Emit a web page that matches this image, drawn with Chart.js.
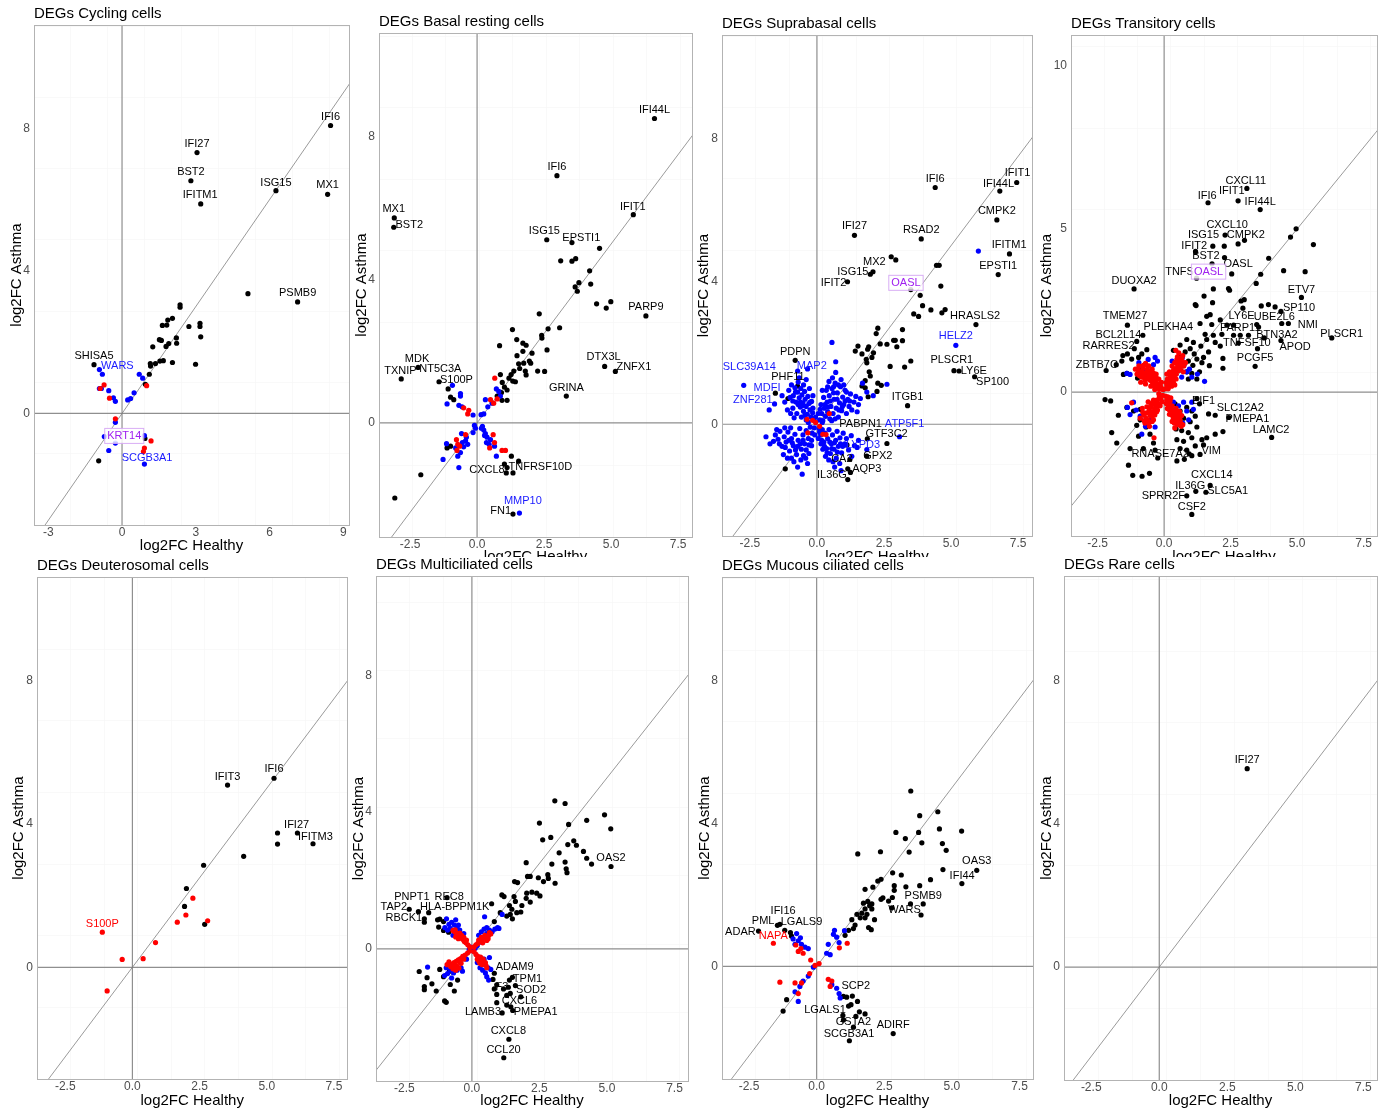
<!DOCTYPE html>
<html>
<head>
<meta charset="utf-8">
<script src="https://cdn.jsdelivr.net/npm/chart.js@4.4.1/dist/chart.umd.min.js"></script>
<style>
  body { margin: 0; background: #fff; width: 1386px; height: 1110px; position: relative; overflow: hidden; }
  canvas { position: absolute; background: #fff; }
  .bottom { z-index: 2; }
</style>
</head>
<body>
<canvas id="c1" width="352" height="560" style="left:0;top:0"></canvas>
<canvas id="c2" width="343" height="566" style="left:352px;top:0"></canvas>
<canvas id="c3" width="343" height="566" style="left:695px;top:0"></canvas>
<canvas id="c4" width="348" height="566" style="left:1038px;top:0"></canvas>
<canvas id="c5" class="bottom" width="350" height="553" style="left:0;top:557px"></canvas>
<canvas id="c6" class="bottom" width="346" height="553" style="left:350px;top:557px"></canvas>
<canvas id="c7" class="bottom" width="342" height="553" style="left:696px;top:557px"></canvas>
<canvas id="c8" class="bottom" width="348" height="553" style="left:1038px;top:557px"></canvas>
<script>
// ---------- data (x = log2FC Healthy, y = log2FC Asthma) ----------
const xTitle = 'log2FC Healthy';
const yTitle = 'log2FC Asthma';
const panelTitles = ['DEGs Cycling cells', 'DEGs Basal resting cells', 'DEGs Suprabasal cells', 'DEGs Transitory cells',
  'DEGs Deuterosomal cells', 'DEGs Multiciliated cells', 'DEGs Mucous ciliated cells', 'DEGs Rare cells'];

const xTicksCycling = [-3, 0, 3, 6, 9];
const xTicksOther = [-2.5, 0, 2.5, 5, 7.5];
const yTicksMain = [0, 4, 8];
const yTicksTransitory = [0, 5, 10];

// Cycling
const cyclingBlack = [[8.48,8.08],[3.05,7.32],[2.80,6.53],[3.20,5.88],[6.26,6.25],[8.36,6.15],[5.12,3.36],[7.14,3.13],[-1.14,1.37],
  [2.36,3.05],[2.36,2.98],[2.05,2.67],[1.86,2.62],[1.82,2.48],[1.64,2.47],[2.72,2.44],[3.17,2.53],[3.17,2.44],[3.20,2.15],
  [1.52,2.07],[1.60,2.05],[2.21,2.12],[2.22,1.97],[1.90,1.96],[1.79,1.88],[1.25,1.87],
  [1.36,1.40],[1.54,1.47],[1.68,1.48],[1.15,1.40],[1.16,1.33],[2.05,1.43],[2.99,1.38],[1.11,1.10],[0.95,0.82],
  [0.93,-0.70],[-0.95,-1.33]];
const cyclingBlue = [[-0.92,1.23],[-0.80,1.10],[-0.84,0.70],[-0.92,0.70],[-0.54,0.64],[-0.35,0.44],[-0.27,0.34],[0.23,0.38],[0.35,0.42],
  [0.49,0.58],[0.70,1.10],[0.84,0.99],[-0.27,-0.25],[-0.72,-0.65],[-0.27,-0.83],[-0.54,-1.04],[0.91,-0.62],[0.91,-1.42]];
const cyclingRed = [[-0.73,0.80],[-0.89,0.70],[-0.51,0.43],[-0.27,-0.15],[1.00,0.78],[1.18,-0.77],[0.91,-0.97],[0.87,-1.07]];
const cyclingLabels = [['IFI6',8.48,8.32,'k'],['IFI27',3.05,7.56,'k'],['BST2',2.80,6.77,'k'],['IFITM1',3.18,6.12,'k'],
  ['ISG15',6.26,6.48,'k'],['MX1',8.36,6.40,'k'],['PSMB9',7.14,3.37,'k'],['SHISA5',-1.14,1.62,'k'],
  ['WARS',-0.19,1.32,'b'],['KRT14',0.09,-0.63,'p'],['SCGB3A1',1.02,-1.24,'b']];

// Basal resting
const basalBlack = [[6.62,8.51],[2.98,6.91],[5.83,5.82],[-3.09,5.73],[-3.11,5.47],[2.60,5.12],[3.54,5.04],[4.57,4.88],[3.12,4.53],
  [3.54,4.52],[3.68,4.59],[4.20,4.25],[3.80,3.92],[4.24,3.88],[3.66,3.80],[3.74,3.68],[4.46,3.33],[4.82,3.21],[4.99,3.39],
  [6.30,2.99],[2.32,3.05],[3.08,2.66],[2.65,2.63],[2.41,2.45],[2.42,2.37],[1.32,2.61],[1.48,2.33],[2.61,2.04],[0.84,2.16],
  [1.71,2.23],[1.83,2.17],[1.49,1.88],[1.71,2.00],[2.05,1.95],[1.55,1.65],[1.74,1.67],[1.95,1.73],[2.00,1.67],[1.37,1.45],
  [1.59,1.52],[1.80,1.45],[1.83,1.34],[2.26,1.45],[2.52,1.44],[0.87,1.35],[1.27,1.35],[1.19,1.25],[1.33,1.17],[0.94,1.13],
  [1.02,1.00],[1.43,1.15],[0.91,0.85],[1.12,0.92],[0.75,0.75],[0.93,0.63],[1.12,0.63],[4.76,1.58],[5.16,1.44],[3.33,0.75],
  [-2.20,1.55],[-2.83,1.23],[-1.42,1.15],[-1.08,0.95],[-0.99,0.72],[-0.87,0.65],[-1.12,-0.70],[-0.99,-0.65],[-2.10,-1.45],
  [-3.07,-2.10],[1.12,-1.25],[1.09,-1.40],[1.34,-1.40],[1.28,-0.93],[1.02,-1.15],[1.55,-1.07],[1.34,-2.55]];
const basalBlue = [[1.58,-2.52],[-0.92,1.05],[-0.62,0.82],[-0.62,0.75],[-1.12,0.53],[-0.68,0.49],[-0.56,0.45],[-0.15,0.22],
  [0.25,0.25],[0.40,0.45],[0.31,0.65],[0.72,0.95],[0.81,0.88],[0.87,0.75],[0.56,0.55],[0.15,0.23],[-0.10,-0.07],[-0.06,-0.15],
  [-0.15,-0.27],[0.16,-0.15],[0.25,-0.20],[0.31,-0.30],[0.37,-0.40],[0.50,-0.47],[0.35,-0.55],[0.65,-0.65],[0.72,-0.93],
  [-0.58,-0.30],[-0.43,-0.50],[-0.50,-0.67],[-0.62,-0.83],[-0.72,-0.93],[-1.14,-0.58],[-1.27,-1.02],[-0.68,-1.25],[-0.40,-0.40],
  [0.20,-0.10],[0.28,-0.35],[0.45,-0.60],[-0.55,-0.55],[-0.35,-0.60],[-0.80,-0.70]];
const basalRed = [[0.66,1.25],[0.50,0.65],[0.62,0.55],[0.75,0.67],[-0.50,0.42],[-0.35,0.25],[-0.31,0.35],[0.60,-0.33],
  [0.65,-0.55],[0.47,-0.70],[0.93,-0.77],[1.06,-0.77],[-0.77,-0.47],[-0.65,-0.65],[-0.72,-0.60],[-0.43,-0.33],[-0.75,-0.77]];
const basalLabels = [['IFI44L',6.62,8.74,'k'],['IFI6',2.98,7.15,'k'],['IFIT1',5.81,6.05,'k'],['MX1',-3.11,5.97,'k'],
  ['BST2',-2.53,5.54,'k'],['ISG15',2.51,5.37,'k'],['EPSTI1',3.89,5.18,'k'],['PARP9',6.30,3.23,'k'],['DTX3L',4.72,1.83,'k'],
  ['ZNFX1',5.85,1.55,'k'],['GRINA',3.33,0.98,'k'],['MDK',-2.24,1.80,'k'],['TXNIP',-2.86,1.45,'k'],['NT5C3A',-1.37,1.50,'k'],
  ['S100P',-0.77,1.20,'k'],['CXCL8',0.37,-1.32,'k'],['TNFRSF10D',2.36,-1.23,'k'],['MMP10',1.71,-2.17,'b'],['FN1',0.88,-2.47,'k']];

// Suprabasal
const supraBlack = [[7.45,6.77],[6.82,6.53],[4.41,6.63],[6.71,5.72],[1.40,5.29],[3.89,5.19],[7.18,4.77],[6.76,4.19],[2.09,4.27],
  [1.99,4.20],[1.14,3.99],[2.77,4.69],[2.94,4.60],[4.46,4.45],[4.56,4.45],[3.50,3.77],[3.85,3.61],[4.62,3.87],[3.94,3.32],
  [4.25,3.20],[3.61,3.09],[3.79,3.02],[4.66,3.12],[4.78,3.21],[5.93,2.79],[2.27,2.69],[2.21,2.54],[3.19,2.65],[2.86,2.35],
  [2.92,2.35],[3.19,2.34],[2.36,2.25],[2.61,2.24],[2.98,2.17],[1.93,2.17],[1.53,2.19],[1.43,2.05],[1.68,1.97],[1.89,2.10],
  [2.11,2.00],[1.84,1.82],[1.86,1.72],[2.05,1.87],[3.50,1.77],[2.73,1.62],[3.27,1.60],[1.95,1.47],[1.99,1.35],[1.80,1.22],
  [1.68,1.07],[1.80,1.02],[2.27,1.15],[2.40,1.09],[1.91,0.77],[2.24,0.92],[5.11,1.50],[5.30,1.49],[5.88,1.33],[3.38,0.52],
  [-0.81,1.79],[-0.72,1.07],[-1.55,0.87],[-1.08,0.72],[-1.18,-1.25],[1.88,-0.41],[2.61,-0.54],[1.86,-0.89],[1.23,-0.98],
  [1.25,-1.35],[1.15,-1.25],[1.15,-1.55],[1.12,-0.58]];
const supraBlue = [[-1.05,0.95],[-0.95,1.10],[-0.88,0.80],[-0.82,1.02],[-0.78,0.62],[-0.72,0.90],[-0.70,1.18],[-0.66,0.74],
  [-0.62,0.48],[-0.60,1.00],[-0.56,0.82],[-0.52,0.60],[-0.50,0.36],[-0.46,0.92],[-0.44,0.70],[-0.40,0.50],[-0.36,0.28],
  [-0.34,0.78],[-0.30,0.58],[-0.26,0.40],[-0.22,0.20],[-0.20,0.64],[-0.16,0.32],[-0.12,0.14],[-0.90,0.45],[-1.20,0.62],
  [-1.30,0.80],[-0.98,0.30],[-0.75,0.30],[-0.58,0.20],[-1.10,0.40],[-0.85,0.18],[-0.40,0.12],[-0.66,1.30],[-0.50,1.10],
  [0.10,0.12],[0.18,0.30],[0.22,0.10],[0.28,0.45],[0.32,0.22],[0.38,0.62],[0.40,0.35],[0.46,0.80],[0.48,0.15],[0.52,0.50],
  [0.56,1.00],[0.60,0.30],[0.64,0.70],[0.68,1.15],[0.72,0.45],[0.76,0.88],[0.80,0.20],[0.84,0.60],[0.88,1.05],[0.92,0.38],
  [0.96,0.76],[1.00,0.55],[1.05,0.95],[1.10,0.30],[1.15,0.70],[1.20,0.50],[1.25,0.85],[1.30,0.40],[1.38,0.62],[1.45,0.78],
  [1.50,0.35],[1.55,0.55],[0.35,0.95],[0.25,0.75],[0.15,0.55],[0.58,1.30],[0.90,1.25],[0.70,1.45],[0.45,1.20],[1.62,0.72],
  [-0.10,-0.10],[-0.18,-0.25],[-0.25,-0.08],[-0.32,-0.40],[-0.40,-0.18],[-0.46,-0.55],[-0.52,-0.30],[-0.58,-0.70],
  [-0.64,-0.12],[-0.70,-0.45],[-0.76,-0.85],[-0.82,-0.28],[-0.88,-0.60],[-0.95,-0.40],[-1.02,-0.75],[-1.08,-0.22],
  [-1.15,-0.50],[-1.22,-0.35],[-1.30,-0.62],[-1.38,-0.20],[-1.45,-0.42],[-1.55,-0.30],[-1.62,-0.48],[-0.60,-1.00],
  [-0.50,-0.88],[-0.40,-0.72],[-0.30,-0.58],[-0.86,-1.05],[-0.72,-1.20],[-0.95,-0.95],[-1.10,-0.95],[-0.20,-0.45],
  [-0.55,-1.40],[-1.25,-0.85],[-0.35,-1.10],
  [0.08,-0.12],[0.14,-0.30],[0.20,-0.15],[0.26,-0.50],[0.30,-0.25],[0.36,-0.68],[0.40,-0.40],[0.45,-0.15],[0.50,-0.82],
  [0.54,-0.55],[0.58,-0.30],[0.64,-0.70],[0.70,-0.45],[0.75,-0.20],[0.80,-0.62],[0.86,-0.38],[0.92,-0.80],[0.98,-0.25],
  [1.04,-0.55],[1.10,-0.40],[1.18,-0.72],[0.22,-0.70],[0.32,-0.90],[0.44,-1.00],[0.60,-1.05],[0.72,-0.95],[0.15,-0.55],
  [0.05,-0.40],[1.28,-0.32],[1.40,-0.60],[0.66,-1.20],[1.55,-0.45],[0.85,-1.10],
  [-0.05,0.20],[0.05,0.30],[-0.15,0.45],[0.12,0.42],[-0.25,0.62],[0.20,0.05],[-0.32,0.05],[0.30,0.55],[-0.45,0.25],
  [0.42,0.48],[-0.55,0.52],[0.50,0.65],[-0.62,0.62],[0.62,0.88],[-0.70,0.55],[0.75,0.70],[-0.80,0.90],[0.82,0.40],
  [-0.90,0.65],[0.95,0.50],[-1.00,0.75],[1.05,0.65],[-0.08,-0.30],[0.10,-0.22],[-0.20,-0.60],[0.18,-0.45],[-0.30,-0.82],
  [0.28,-0.62],[-0.42,-0.95],[0.38,-0.80],[-0.52,-0.45],[0.48,-0.50],[-0.62,-0.55],[0.55,-0.68],[-0.72,-0.62],[0.65,-0.52],
  [-0.80,-0.72],[0.76,-0.78],[-0.92,-0.52],[0.88,-0.55],[-1.05,-0.45],[0.96,-0.62],[-1.18,-0.65],[1.08,-0.58],[-0.15,0.80],
  [0.20,0.95],[-0.28,1.00],[0.40,1.05],[-0.40,1.25],[0.62,1.05],[0.80,1.10],[1.00,1.10],[1.10,0.90],[1.22,0.65],
  [-1.40,-0.55],[-1.50,-0.15],[-1.20,-0.10],[-0.98,-0.10],[0.55,0.10],[0.68,0.15],
  [-2.73,1.09],[-1.58,0.57],[-1.78,0.40],[-0.72,1.49],[5.18,2.21],[6.02,4.85],[3.08,-0.35],[1.86,-0.71],[0.56,2.29],
  [2.61,1.12],[1.86,0.90],[1.50,-0.65],[1.30,-0.90],[0.70,1.75],[-0.35,1.55],[0.90,-1.30],[-1.90,-0.35],[-1.75,-0.55],
  [2.10,0.80],[1.70,1.15]];
const supraRed = [[-0.37,0.14],[-0.16,0.11],[0.46,0.30],[0.10,-0.06],[-0.34,-0.24],[0.22,-0.28],[0.34,-0.29],[-0.05,0.05]];
const supraLabels = [['IFIT1',7.48,7.03,'k'],['IFI44L',6.77,6.74,'k'],['IFI6',4.41,6.87,'k'],['CMPK2',6.71,5.97,'k'],
  ['IFI27',1.40,5.54,'k'],['RSAD2',3.89,5.44,'k'],['IFITM1',7.17,5.01,'k'],['EPSTI1',6.76,4.42,'k'],['MX2',2.14,4.54,'k'],
  ['ISG15',1.34,4.25,'k'],['IFIT2',0.62,3.95,'k'],['OASL',3.32,3.96,'p'],['HRASLS2',5.90,3.03,'k'],['HELZ2',5.18,2.46,'b'],
  ['PLSCR1',5.03,1.79,'k'],['LY6E',5.85,1.49,'k'],['SP100',6.55,1.19,'k'],['ITGB1',3.38,0.77,'k'],['PDPN',-0.81,2.03,'k'],
  ['PHF11',-1.08,1.32,'k'],['SLC39A14',-2.52,1.61,'b'],['MAP2',-0.19,1.64,'b'],['MDFI',-1.86,1.02,'b'],['ZNF281',-2.39,0.67,'b'],
  ['PABPN1',1.63,0.0,'k'],['ATP5F1',3.27,0.0,'b'],['GTF3C2',2.60,-0.28,'k'],['LYPD3',1.72,-0.58,'b'],['GPX2',2.27,-0.88,'k'],
  ['CA2',0.93,-0.98,'k'],['AQP3',1.86,-1.25,'k'],['IL36G',0.56,-1.41,'k']];

// Transitory
const transBlack = [[3.11,6.24],[2.78,5.86],[1.65,5.80],[3.61,5.59],[2.29,4.81],[1.83,4.47],[2.26,4.47],[2.78,4.54],[3.02,4.65],
  [1.18,4.31],[1.80,3.93],[2.27,4.12],[2.54,3.62],[1.22,3.49],[-1.13,3.16],[4.96,5.00],[4.75,4.75],[5.61,4.52],[3.93,4.10],
  [4.49,3.72],[5.30,3.69],[3.63,3.61],[3.46,3.33],[2.42,3.17],[2.46,3.12],[1.85,3.16],[1.50,2.94],[1.82,2.74],[1.17,2.68],
  [1.20,2.65],[2.89,2.79],[3.01,2.83],[2.96,2.57],[3.65,2.64],[3.92,2.68],[4.17,2.61],[5.16,2.90],[4.39,2.47],[1.60,2.32],
  [1.73,2.37],[1.35,2.10],[1.79,2.07],[2.11,2.21],[2.36,2.05],[2.61,2.05],[3.48,2.07],[3.55,1.99],[4.42,2.10],[4.67,2.10],
  [1.54,1.77],[1.85,1.74],[2.17,1.77],[3.17,1.74],[2.61,1.74],[2.86,1.74],[3.76,1.66],[4.39,1.58],[6.30,1.66],[0.85,1.61],
  [1.10,1.52],[1.38,1.41],[1.92,1.52],[2.11,1.41],[2.79,1.50],[3.51,1.33],[3.42,0.79],[2.21,1.03],[2.21,0.73],[1.70,0.81],
  [-1.38,2.05],[-0.80,1.74],[-1.03,1.55],[-1.12,1.33],[-2.18,0.66],[-1.55,1.12],[-1.59,0.95],[-1.38,1.17],[-1.22,1.01],
  [-1.80,0.84],[-1.53,0.54],[-1.40,0.57],[-0.96,1.06],[-0.84,1.17],[-0.65,1.30],[-0.90,0.73],[-1.00,0.43],
  [0.60,1.06],[0.79,1.23],[0.98,1.33],[1.13,1.17],[0.73,0.84],[0.91,0.95],[1.08,0.82],[1.23,1.01],[0.60,0.68],[0.85,0.62],
  [1.04,0.57],[1.33,0.62],[1.23,0.40],[0.91,0.40],[1.67,1.23],[1.48,1.06],[1.42,0.90],[1.60,1.61],[0.60,1.44],[0.35,1.28],
  [1.67,-0.67],[1.92,-0.71],[2.43,-0.78],[4.04,-1.39],[1.35,-1.91],[-0.24,-2.02],[0.94,-1.89],[1.73,-2.86],[1.19,-3.04],
  [1.57,-3.07],[0.85,-3.18],[1.04,-3.75],
  [-2.22,-0.23],[-2.01,-0.27],[-1.72,-0.71],[-1.97,-1.24],[-1.78,-1.56],[-1.34,-2.24],[-1.18,-2.55],[-0.83,-2.58],
  [-0.55,-2.49],[-1.28,-1.73],[-1.03,-1.02],[-0.90,-0.85],[-1.40,-0.47],[-1.15,-0.58],[-0.90,-0.53],[-0.65,-0.91],
  [-0.68,-1.07],[-0.53,-1.29],[-0.40,-1.56],[-0.78,-1.73],[-0.96,-1.35],[-0.34,-1.78],
  [0.41,-0.36],[0.60,-0.58],[0.85,-0.47],[1.04,-0.58],[0.50,-0.85],[0.73,-0.80],[0.98,-0.91],[1.17,-0.74],[0.45,-1.13],
  [0.66,-1.18],[0.91,-1.24],[1.23,-1.07],[0.48,-1.46],[0.73,-1.51],[1.04,-1.40],[1.42,-1.46],[0.60,-1.73],[0.85,-1.78],
  [1.17,-1.65],[1.48,-1.62],[0.48,-2.11],[0.76,-2.06],[1.04,-1.95],[1.60,-1.40],[1.92,-1.29],[2.21,-1.21],[1.33,-0.36],
  [1.23,-0.20]];
const transBlue = [[1.52,0.33],[-0.84,0.51],[-0.68,0.62],[-0.34,1.06],[-0.40,0.84],[-1.28,0.54],[-1.40,0.57],[0.54,0.73],
  [0.75,0.84],[0.85,0.62],[0.66,0.46],[1.04,0.46],[0.35,-0.31],[0.54,-0.42],[0.73,-0.31],[0.85,-0.58],[0.60,-0.69],
  [0.41,-0.80],[-1.38,-0.47],[-1.28,-0.69],[-0.84,-1.29],[-0.90,-0.74],[-0.53,-0.85],[-0.40,-0.63],[-0.34,-1.07],
  [-1.15,-0.31],[1.04,-0.31],[1.10,-0.53],[-0.95,0.90],[-0.60,1.00],[0.95,0.70],[0.68,1.05],[0.70,-0.95],[0.92,-0.85],
  [-1.05,-0.55],[-0.70,-1.05],[0.30,0.95],[-0.25,0.95],[1.25,0.55],[0.45,-0.95]];
const transRed = [[-0.05,0.08],[-0.12,0.15],[-0.18,0.10],[-0.22,0.25],[-0.28,0.18],[-0.32,0.35],[-0.36,0.22],[-0.40,0.42],
  [-0.44,0.30],[-0.48,0.52],[-0.52,0.36],[-0.56,0.60],[-0.60,0.44],[-0.64,0.68],[-0.68,0.50],[-0.72,0.36],[-0.76,0.58],
  [-0.80,0.72],[-0.85,0.46],[-0.90,0.62],[-0.95,0.80],[-1.02,0.55],[-1.08,0.70],[-0.58,0.80],[-0.45,0.70],[-0.30,0.55],
  [-0.70,0.25],[-0.88,0.30],[-0.50,0.18],[-0.35,0.08],
  [-0.10,0.30],[-0.20,0.40],[-0.30,0.45],[-0.40,0.58],[-0.50,0.66],[-0.62,0.78],[-0.70,0.88],[-0.78,0.82],[-0.92,0.50],
  [-0.98,0.68],[-0.65,0.40],[-0.55,0.48],[-0.42,0.20],[-0.25,0.12],[-0.15,0.25],[-0.35,0.50],[-0.75,0.45],[-0.85,0.60],
  [-0.60,0.62],[-0.46,0.44],
  [0.05,0.10],[0.10,0.22],[0.14,0.12],[0.18,0.35],[0.22,0.25],[0.26,0.48],[0.30,0.35],[0.34,0.60],[0.38,0.45],[0.42,0.72],
  [0.46,0.55],[0.50,0.85],[0.54,0.66],[0.58,0.95],[0.62,0.78],[0.66,1.05],[0.30,0.80],[0.20,0.62],[0.48,1.00],[0.72,0.62],
  [0.80,0.90],[0.40,0.22],[0.12,0.40],[0.55,1.20],[0.44,1.28],[0.10,0.55],
  [0.08,0.30],[0.16,0.20],[0.24,0.38],[0.32,0.48],[0.36,0.70],[0.44,0.62],[0.52,0.75],[0.60,0.88],[0.68,0.95],[0.74,0.80],
  [0.28,0.60],[0.40,0.90],[0.50,1.08],[0.22,0.50],[0.35,0.30],[0.60,0.70],[0.15,0.10],[0.28,0.18],[0.45,0.40],[0.70,1.12],
  [-0.06,-0.10],[-0.12,-0.22],[-0.18,-0.15],[-0.22,-0.35],[-0.28,-0.25],[-0.32,-0.48],[-0.38,-0.36],[-0.42,-0.60],
  [-0.48,-0.45],[-0.52,-0.72],[-0.56,-0.55],[-0.62,-0.85],[-0.66,-0.64],[-0.72,-0.95],[-0.76,-0.70],[-0.45,-0.90],
  [-0.35,-0.70],[-0.25,-0.55],[-0.82,-0.50],[-0.60,-0.30],[-0.90,-0.80],[-0.15,-0.42],[-0.38,-1.40],[-1.22,-0.33],
  [-0.55,-1.05],
  [-0.08,-0.30],[-0.18,-0.42],[-0.28,-0.60],[-0.35,-0.55],[-0.45,-0.75],[-0.52,-0.60],[-0.58,-0.95],[-0.68,-0.80],
  [-0.80,-0.62],[-0.30,-0.35],[-0.40,-0.25],[-0.50,-0.35],[-0.20,-0.05],[-0.65,-0.45],[-0.75,-0.88],[-0.40,-0.85],
  [0.05,-0.12],[0.10,-0.25],[0.14,-0.15],[0.18,-0.40],[0.22,-0.28],[0.26,-0.55],[0.30,-0.42],[0.34,-0.70],[0.38,-0.55],
  [0.42,-0.85],[0.46,-0.68],[0.50,-1.00],[0.54,-0.80],[0.58,-0.60],[0.62,-0.95],[0.30,-0.90],[0.20,-0.68],[0.40,-1.10],
  [0.66,-0.72],[0.12,-0.50],[0.70,-1.00],
  [0.08,-0.35],[0.16,-0.30],[0.24,-0.45],[0.28,-0.70],[0.36,-0.62],[0.44,-0.75],[0.48,-0.92],[0.56,-0.70],[0.60,-0.85],
  [0.35,-0.80],[0.25,-0.18],[0.45,-0.50],[0.52,-0.60],[0.20,-0.55],[0.64,-1.05],[0.38,-0.95]];
const transLabels = [['CXCL11',3.07,6.48,'k'],['IFIT1',2.54,6.15,'k'],['IFI6',1.62,6.02,'k'],['IFI44L',3.61,5.81,'k'],
  ['CXCL10',2.37,5.13,'k'],['ISG15',1.48,4.81,'k'],['CMPK2',3.07,4.81,'k'],['IFIT2',1.13,4.49,'k'],['BST2',1.57,4.16,'k'],
  ['OASL',2.78,3.94,'k'],['TNFS',0.58,3.69,'k'],['OASL',1.67,3.69,'p'],['DUOXA2',-1.13,3.39,'k'],['ETV7',5.16,3.14,'k'],
  ['SP110',5.07,2.59,'k'],['TMEM27',-1.47,2.32,'k'],['LY6E',2.91,2.32,'k'],['UBE2L6',4.14,2.29,'k'],['NMI',5.40,2.07,'k'],
  ['PLEKHA4',0.16,1.99,'k'],['PARP11',2.86,1.96,'k'],['BCL2L14',-1.72,1.75,'k'],['PLSCR1',6.67,1.79,'k'],['BTN3A2',4.24,1.74,'k'],
  ['RARRES2',-2.09,1.41,'k'],['TNFSF10',3.11,1.50,'k'],['APOD',4.92,1.37,'k'],['PCGF5',3.42,1.03,'k'],['ZBTB7C',-2.53,0.84,'k'],
  ['EIF1',1.48,-0.27,'k'],['SLC12A2',2.86,-0.49,'k'],['PMEPA1',3.13,-0.82,'k'],['LAMC2',4.02,-1.16,'k'],['VIM',1.77,-1.81,'k'],
  ['RNASE7A2',-0.15,-1.89,'k'],['CXCL14',1.79,-2.55,'k'],['IL36G',0.98,-2.88,'k'],['SLC5A1',2.39,-3.03,'k'],
  ['SPRR2F',-0.03,-3.18,'k'],['CSF2',1.04,-3.51,'k']];

// Deuterosomal
const deutBlack = [[3.54,5.09],[5.27,5.28],[6.14,3.75],[5.40,3.75],[5.40,3.44],[6.72,3.45],[4.14,3.10],[2.65,2.85],[2.01,2.20],
  [1.94,1.70],[2.69,1.20]];
const deutBlue = [];
const deutRed = [[-1.12,0.98],[2.25,1.93],[1.99,1.46],[1.67,1.26],[2.80,1.30],[0.86,0.69],[-0.38,0.22],[0.40,0.24],[-0.94,-0.66]];
const deutLabels = [['IFIT3',3.54,5.31,'k'],['IFI6',5.27,5.53,'k'],['IFI27',6.11,3.98,'k'],['IFITM3',6.81,3.64,'k'],
  ['S100P',-1.12,1.21,'r']];

// Multiciliated
const multiBlack = [[3.07,4.33],[3.45,4.25],[2.50,3.68],[3.58,3.64],[4.25,3.76],[4.91,3.92],[5.14,3.51],[2.62,3.19],[2.92,3.26],
  [3.77,3.16],[3.87,3.03],[3.55,3.05],[3.23,2.81],[4.13,2.85],[4.25,2.65],[4.43,2.48],[5.15,2.41],[2.01,2.52],[2.96,2.48],
  [3.45,2.54],[3.49,2.34],[3.52,2.23],[2.06,2.12],[2.16,2.12],[2.46,2.08],[2.81,2.17],[2.83,2.06],[2.65,1.97],[3.08,1.92],
  [1.58,1.97],[1.69,1.94],[2.03,1.63],[2.22,1.66],[2.40,1.63],[2.52,1.55],[1.11,1.58],[1.19,1.53],[1.56,1.53],[1.61,1.39],
  [2.01,1.48],[2.16,1.37],[1.85,1.27],[1.39,1.27],[1.48,1.16],[1.66,1.06],[1.81,1.08],[1.29,0.96],[1.42,1.01],[1.50,0.88],
  [0.73,1.32],[0.83,0.80],[1.05,1.06],
  [-2.32,1.16],[-1.98,1.09],[-1.60,1.06],[-0.92,1.50],[-1.76,0.88],[-1.76,0.78],[-1.27,0.85],[-1.19,0.87],[-1.05,0.80],
  [-1.23,0.64],[-1.05,0.54],[-0.86,0.49],
  [-1.95,-0.66],[-1.66,-0.84],[-1.76,-1.10],[-1.76,-1.19],[-1.48,-1.02],[-1.32,-1.23],[-1.19,-0.60],[-1.05,-0.81],
  [-0.83,-0.65],[-1.01,-1.52],[-0.95,-1.56],[-0.80,-1.04],[-0.53,-0.91],[-0.65,-1.23],
  [0.83,-0.71],[0.78,-0.89],[0.92,-1.05],[0.83,-1.17],[1.39,-0.91],[1.50,-0.83],[1.17,-1.17],[1.35,-1.12],[1.61,-1.07],
  [0.92,-1.33],[1.29,-1.36],[1.42,-1.30],[1.81,-1.40],[0.92,-1.57],[1.29,-1.64],[1.12,-1.87],[1.51,-1.80],[1.44,-1.69],
  [1.37,-2.64],[1.18,-3.18]];
const multiBlue = [[-0.30,0.45],[-0.45,0.55],[-0.55,0.62],[-0.65,0.70],[-0.75,0.78],[-0.85,0.72],[-0.80,0.60],[-0.70,0.40],
  [-0.90,0.55],[-0.60,0.85],[-0.94,0.88],[-0.50,0.70],[-1.00,0.62],
  [0.25,0.40],[0.35,0.50],[0.45,0.58],[0.55,0.62],[0.65,0.55],[0.75,0.50],[0.85,0.58],[0.95,0.62],[0.47,0.94],[1.12,1.01],
  [1.00,0.60],[0.55,0.45],[0.30,0.20],[0.20,0.10],
  [-0.20,-0.30],[-0.40,-0.55],[-0.55,-0.62],[-0.68,-0.70],[-0.80,-0.62],[-0.90,-0.72],[-1.01,-0.78],[-0.75,-0.85],
  [-1.64,-0.53],[-0.35,-0.65],[-0.95,-0.55],
  [0.30,-0.55],[0.40,-0.62],[0.50,-0.70],[0.55,-0.81],[0.62,-0.91],[0.60,-0.55],[0.65,-0.25],[0.45,-0.30],[0.20,-0.40],
  [0.70,-0.60],[0.00,0.00],[0.05,-0.05],[-0.05,0.05],[0.12,0.02],[-0.10,-0.02]];
const multiRed = [[-0.08,0.06],[-0.15,0.12],[-0.22,0.18],[-0.28,0.22],[-0.34,0.28],[-0.40,0.32],[-0.46,0.38],[-0.52,0.42],
  [-0.58,0.46],[-0.64,0.50],[-0.70,0.54],[-0.50,0.30],[-0.38,0.40],[-0.60,0.35],
  [0.08,0.06],[0.15,0.12],[0.22,0.16],[0.30,0.22],[0.38,0.28],[0.46,0.32],[0.54,0.36],[0.62,0.40],[0.70,0.44],[0.40,0.18],
  [0.55,0.25],
  [-0.08,-0.06],[-0.16,-0.12],[-0.25,-0.18],[-0.34,-0.22],[-0.42,-0.28],[-0.50,-0.32],[-0.58,-0.36],[-0.66,-0.40],
  [-0.74,-0.44],[-0.82,-0.46],[-0.92,-0.46],[-0.55,-0.50],[-0.40,-0.42],[-0.70,-0.58],[-0.60,-0.62],
  [0.08,-0.08],[0.15,-0.16],[0.22,-0.22],[0.28,-0.28],[0.34,-0.34],[0.40,-0.40],[0.46,-0.45],[0.52,-0.48],[0.30,-0.42],
  [0.42,-0.30],
  [-0.30,0.34],[-0.45,0.46],[-0.55,0.38],[-0.62,0.56],[-0.20,0.26],[0.25,0.26],[0.35,0.34],[0.48,0.40],[0.60,0.30],
  [0.65,0.48],[-0.30,-0.30],[-0.45,-0.38],[-0.62,-0.48],[-0.78,-0.52],[-0.85,-0.38],[0.20,-0.30],[0.32,-0.24],[0.38,-0.46],
  [0.50,-0.40],[0.55,-0.55],[-0.48,-0.56],[0.26,-0.36]];
const multiLabels = [['PNPT1',-2.22,1.53,'k'],['REC8',-0.84,1.53,'k'],['TAP2',-2.89,1.22,'k'],['HLA-B',-1.32,1.22,'k'],
  ['PPM1K',-0.04,1.22,'k'],['RBCK1',-2.52,0.90,'k'],['OAS2',5.15,2.65,'k'],['ADAM9',1.58,-0.52,'k'],['TPM1',2.06,-0.88,'k'],
  ['F3',1.11,-1.12,'k'],['SOD2',2.19,-1.21,'k'],['CXCL6',1.76,-1.52,'k'],['LAMB3',0.41,-1.85,'k'],['PMEPA1',2.36,-1.85,'k'],
  ['CXCL8',1.35,-2.39,'k'],['CCL20',1.17,-2.94,'k']];

// Mucous ciliated
const mucBlack = [[3.48,4.91],[4.48,4.33],[3.81,4.22],[2.93,3.75],[3.77,3.75],[4.54,3.85],[5.36,3.79],[3.28,3.58],[4.65,3.44],
  [3.89,3.46],[4.79,3.25],[2.36,3.21],[3.42,3.20],[1.52,3.15],[5.92,2.69],[4.67,2.71],[5.37,2.32],[2.81,2.62],[3.13,2.56],
  [4.21,2.43],[2.26,2.39],[2.38,2.44],[3.30,2.23],[3.81,2.26],[2.87,2.26],[2.87,2.13],[2.80,1.93],[1.79,2.16],[2.08,2.22],
  [2.66,1.83],[2.38,1.88],[2.45,1.92],[3.47,1.75],[3.94,1.75],[2.78,1.64],[3.86,1.44],[1.73,1.77],[1.89,1.82],[1.96,1.70],
  [2.04,1.75],[1.79,1.61],[1.67,1.49],[1.86,1.46],[2.04,1.61],[1.49,1.46],[1.61,1.36],[1.79,1.36],[2.14,1.31],[1.30,1.31],
  [1.42,1.16],[1.92,1.09],[2.02,1.03],[1.18,1.01],[1.36,1.06],[1.05,0.87],
  [-2.15,0.99],[-1.45,1.15],[-1.36,1.18],[-1.18,1.01],[-0.97,0.95],[-0.93,0.85],
  [1.32,-0.83],[0.99,-0.84],[1.11,-0.86],[1.51,-0.98],[1.27,-1.07],[1.18,-1.11],[1.58,-1.27],[1.79,-1.33],[1.45,-1.40],
  [0.97,-1.37],[0.99,-1.50],[1.36,-1.70],[1.21,-2.08],[2.83,-1.88],[-1.11,-0.93],[-1.24,-1.25]];
const mucBlue = [[-0.74,0.92],[-0.87,0.77],[-0.68,0.72],[-0.56,0.62],[-0.43,0.54],[-0.31,0.50],[-0.80,0.62],[0.66,1.01],
  [1.03,1.00],[0.74,0.82],[0.83,0.67],[0.43,0.62],[0.37,0.37],[0.50,0.33],[0.56,-0.51],[0.74,-0.61],[0.83,-0.76],[0.87,-0.88],
  [-0.50,-0.41],[-0.62,-0.56],[-0.80,-0.71],[-0.68,-0.98],[-0.31,-0.27],[-0.12,-0.02],[0.62,0.90],[-0.60,0.80]];
const mucRed = [[-1.60,0.65],[0.84,0.52],[1.13,0.65],[-0.77,0.60],[-0.68,0.42],[-0.58,0.50],[-0.50,0.37],[-0.22,0.18],
  [0.09,0.08],[-0.06,0.03],[-0.26,-0.20],[-0.56,-0.46],[-0.80,-0.46],[-0.68,-0.76],[-1.36,-0.44],[0.43,-0.36],[0.50,-0.56],
  [0.56,-0.41]];
const mucLabels = [['OAS3',5.92,2.94,'k'],['IFI44',5.38,2.54,'k'],['PSMB9',3.94,1.98,'k'],['WARS',3.25,1.59,'k'],
  ['IFI16',-1.24,1.56,'k'],['PML',-1.98,1.26,'k'],['LGALS9',-0.56,1.24,'k'],['ADAR',-2.82,0.96,'k'],['NAPA',-1.60,0.85,'r'],
  ['SCP2',1.45,-0.54,'k'],['LGALS1',0.31,-1.22,'k'],['GSTA2',1.36,-1.55,'k'],['ADIRF',2.83,-1.65,'k'],['SCGB3A1',1.20,-1.88,'k']];

// Rare
const rareBlack = [[3.23,5.55]];
const rareBlue = [];
const rareRed = [];
const rareLabels = [['IFI27',3.23,5.78,'k']];

// ---------- layout / styling ----------
const panels = [
  { id: 'c1', black: cyclingBlack, blue: cyclingBlue, red: cyclingRed, labels: cyclingLabels, xTicks: xTicksCycling, yTicks: yTicksMain, xDec: 0,
    xr: [-3.58, 9.23], yr: [-3.13, 10.9], yw: 34, xh: 35, pt: 25, pr: 3, ytp: 8, xtp: 5 },
  { id: 'c2', black: basalBlack, blue: basalBlue, red: basalRed, labels: basalLabels, xTicks: xTicksOther, yTicks: yTicksMain, xDec: 1,
    xr: [-3.66, 8.02], yr: [-3.19, 10.9], yw: 27, xh: 29, pt: 33, pr: 3, ytp: 1, xtp: 0 },
  { id: 'c3', black: supraBlack, blue: supraBlue, red: supraRed, labels: supraLabels, xTicks: xTicksOther, yTicks: yTicksMain, xDec: 1,
    xr: [-3.54, 8.02], yr: [-3.13, 10.9], yw: 27, xh: 30, pt: 35, pr: 6, ytp: 0, xtp: 0 },
  { id: 'c4', black: transBlack, blue: transBlue, red: transRed, labels: transLabels, xTicks: xTicksOther, yTicks: yTicksTransitory, xDec: 1,
    xr: [-3.5, 8.0], yr: [-4.41, 10.94], yw: 33, xh: 30, pt: 35, pr: 9, ytp: 0, xtp: 0 },
  { id: 'c5', black: deutBlack, blue: deutBlue, red: deutRed, labels: deutLabels, xTicks: xTicksOther, yTicks: yTicksMain, xDec: 1,
    xr: [-3.55, 8.0], yr: [-3.12, 10.9], yw: 37, xh: 31, pt: 20, pr: 1, ytp: 10, xtp: 0 },
  { id: 'c6', black: multiBlack, blue: multiBlue, red: multiRed, labels: multiLabels, xTicks: xTicksOther, yTicks: yTicksMain, xDec: 1,
    xr: [-3.55, 8.0], yr: [-3.86, 10.9], yw: 26, xh: 29, pt: 19, pr: 8, ytp: 0, xtp: 0 },
  { id: 'c7', black: mucBlack, blue: mucBlue, red: mucRed, labels: mucLabels, xTicks: xTicksOther, yTicks: yTicksMain, xDec: 1,
    xr: [-3.5, 8.0], yr: [-3.15, 10.9], yw: 26, xh: 31, pt: 20, pr: 5, ytp: 0, xtp: 0 },
  { id: 'c8', black: rareBlack, blue: rareBlue, red: rareRed, labels: rareLabels, xTicks: xTicksOther, yTicks: yTicksMain, xDec: 1,
    xr: [-3.5, 8.0], yr: [-3.16, 10.94], yw: 26, xh: 30, pt: 19, pr: 9, ytp: 0, xtp: 0 }
];

const labelColors = { k: '#000000', b: '#1a1aff', r: '#ff0000', p: '#a020f0' };
const FONT = '"Liberation Sans", Arial, sans-serif';

Chart.defaults.font.family = FONT;

const toXY = arr => arr.map(([x, y]) => ({ x, y }));
const isMajor = (v, step) => Math.abs(v / step - Math.round(v / step)) < 1e-6;

const decor = {
  id: 'decor',
  beforeDatasetsDraw(chart, args, opts) {
    const { ctx, chartArea: a, scales: { x, y } } = chart;
    ctx.save();
    ctx.beginPath();
    ctx.rect(a.left, a.top, a.right - a.left, a.bottom - a.top);
    ctx.clip();
    const x0 = x.getPixelForValue(0), y0 = y.getPixelForValue(0);
    ctx.strokeStyle = '#8f8f8f';
    ctx.lineWidth = 1.2;
    ctx.beginPath();
    ctx.moveTo(x0, a.top); ctx.lineTo(x0, a.bottom);
    ctx.moveTo(a.left, y0); ctx.lineTo(a.right, y0);
    ctx.stroke();
    // identity line y = x
    const lo = Math.min(x.min, y.min), hi = Math.max(x.max, y.max);
    ctx.strokeStyle = '#6e6e6e';
    ctx.lineWidth = 0.7;
    ctx.beginPath();
    ctx.moveTo(x.getPixelForValue(lo), y.getPixelForValue(lo));
    ctx.lineTo(x.getPixelForValue(hi), y.getPixelForValue(hi));
    ctx.stroke();
    ctx.restore();
  },
  afterDatasetsDraw(chart, args, opts) {
    const { ctx, scales: { x, y } } = chart;
    ctx.save();
    ctx.font = '11px ' + FONT;
    ctx.textAlign = 'center';
    ctx.textBaseline = 'middle';
    for (const [txt, lx, ly, c] of opts.labels) {
      const px = x.getPixelForValue(lx), py = y.getPixelForValue(ly);
      if (c === 'p') {
        const w = ctx.measureText(txt).width;
        ctx.fillStyle = 'rgba(255,255,255,0.85)';
        ctx.fillRect(px - w / 2 - 2, py - 7, w + 4, 14);
        ctx.strokeStyle = '#d9aef5';
        ctx.lineWidth = 1;
        ctx.strokeRect(px - w / 2 - 2.5, py - 7.5, w + 5, 15);
      }
      ctx.fillStyle = labelColors[c];
      ctx.fillText(txt, px, py);
    }
    ctx.restore();
  },
  afterDraw(chart, args, opts) {
    const { ctx, chartArea: a, scales: { x, y } } = chart;
    ctx.save();
    ctx.strokeStyle = '#b3b3b3';
    ctx.lineWidth = 1;
    ctx.strokeRect(Math.round(a.left) + 0.5, Math.round(a.top) + 0.5, Math.round(a.right - a.left), Math.round(a.bottom - a.top));
    // tick labels
    ctx.font = '12px ' + FONT;
    ctx.fillStyle = '#4d4d4d';
    ctx.textBaseline = 'middle';
    ctx.textAlign = 'center';
    for (const t of opts.xTicks) ctx.fillText(t.toFixed(opts.xDec), x.getPixelForValue(t), a.bottom + 8);
    ctx.textAlign = 'right';
    for (const t of opts.yTicks) ctx.fillText(String(t), a.left - 4, y.getPixelForValue(t));
    // panel title
    ctx.font = '15px ' + FONT;
    ctx.fillStyle = '#000';
    ctx.textAlign = 'left';
    ctx.fillText(opts.title, a.left, a.top - 11);
    ctx.restore();
  }
};

function axis(p, dir) {
  const major = dir === 'x' ? p.xTicks[1] - p.xTicks[0] : p.yTicks[1] - p.yTicks[0];
  const range = dir === 'x' ? p.xr : p.yr;
  return {
    type: 'linear',
    position: dir === 'x' ? 'bottom' : 'left',
    min: range[0],
    max: range[1],
    bounds: 'data',
    afterFit: s => { if (dir === 'x') s.height = p.xh; else s.width = p.yw; },
    grid: {
      drawTicks: false,
      color: c => isMajor(c.tick.value, major) ? '#ebebeb' : '#f5f5f5',
      lineWidth: c => isMajor(c.tick.value, major) ? 1 : 0.6
    },
    border: { display: false },
    ticks: {
      display: false,
      stepSize: major / 2,
      includeBounds: false,
      autoSkip: false,
      maxRotation: 0
    },
    title: {
      display: true,
      text: dir === 'x' ? xTitle : yTitle,
      color: '#000',
      font: { size: 15 },
      padding: dir === 'x' ? { top: 0, bottom: p.xtp } : { top: p.ytp, bottom: 0 }
    }
  };
}

panels.forEach((p, i) => {
  const pt = { pointRadius: 2.6, pointBorderWidth: 0, pointHoverRadius: 2.6 };
  new Chart(document.getElementById(p.id), {
    type: 'scatter',
    data: {
      datasets: [
        { label: 'red', data: toXY(p.red), backgroundColor: '#ff0000', ...pt },
        { label: 'blue', data: toXY(p.blue), backgroundColor: '#0000ff', ...pt },
        { label: 'black', data: toXY(p.black), backgroundColor: '#000000', ...pt }
      ]
    },
    options: {
      responsive: false,
      devicePixelRatio: 1,
      animation: false,
      events: [],
      layout: { padding: { top: p.pt, right: p.pr, left: 0, bottom: 0 } },
      plugins: {
        legend: { display: false },
        tooltip: { enabled: false },
        decor: { labels: p.labels, title: panelTitles[i], xTicks: p.xTicks, yTicks: p.yTicks, xDec: p.xDec }
      },
      scales: { x: axis(p, 'x'), y: axis(p, 'y') }
    },
    plugins: [decor]
  });
});
</script>
</body>
</html>
